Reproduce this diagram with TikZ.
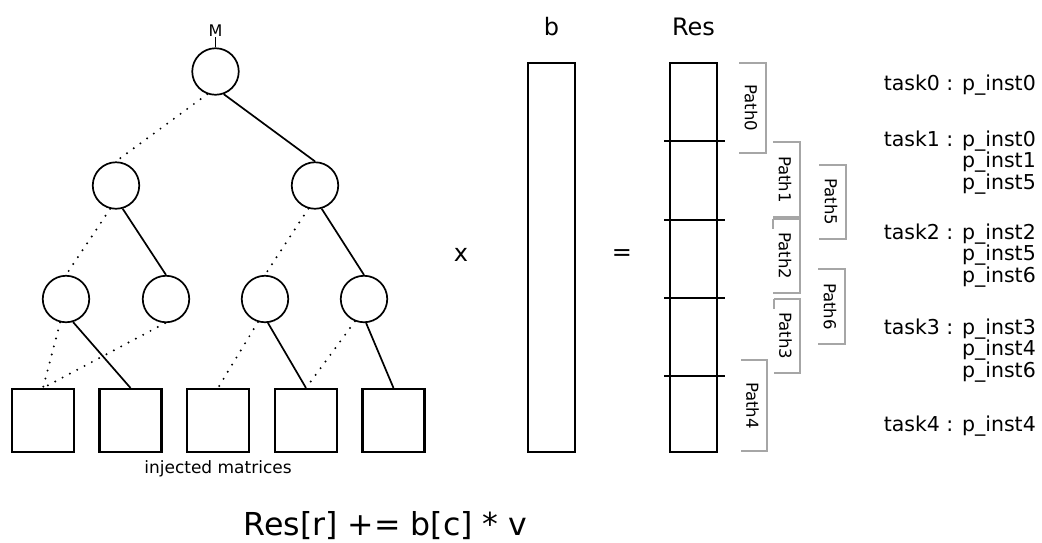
\documentclass[tikz,border=0pt]{standalone}
\usepackage{fontspec}
\setmainfont{DejaVu Sans}
\usetikzlibrary{positioning}
\tikzset{
	circ/.style={draw, circle, line width=1.7pt, minimum size=46.5pt, inner sep=0pt},
	mat/.style={draw, line width=2.1pt, minimum width=62pt, minimum height=63pt, inner sep=0pt},
	vect/.style={draw, line width=2.1pt, minimum width=47pt, minimum height=389pt, inner sep=0pt},
	tedge/.style={line width=1.7pt},
	tdots/.style={line width=2.2pt, dash pattern=on 0pt off 8.3pt, line cap=round},
	brk/.style={draw=gray!70, line width=1.2pt},
	plabel/.style={rotate=-90, inner sep=0pt, font=\fontsize{16.5}{16.5}\selectfont},
	head/.style={anchor=base, inner sep=0pt, font=\fontsize{24}{24}\selectfont},
	task/.style={anchor=base east, align=right, inner sep=0pt, font=\fontsize{20.5}{21.5}\selectfont}
}
\begin{document}
\begin{tikzpicture}[x=1pt, y=-1pt]
	\useasboundingbox (0,0) rectangle (1042,542);

	\node[circ] (M) at (215.5,71.5) {};
	\node[circ] (A) at (116,185.5) {};
	\node[circ] (B) at (315,185.5) {};
	\node[circ] (C) at (66,299) {};
	\node[circ] (D) at (166,299) {};
	\node[circ] (E) at (265,299) {};
	\node[circ] (F) at (364,299) {};
	\node[inner sep=1pt, font=\fontsize{16}{16}\selectfont, above=10pt of M] (Mlab) {M};
	\draw[line width=1.1pt] (M.north) -- (Mlab.south);

	\foreach \i/\xx in {1/43,2/130.5,3/218,4/306,5/393.5}
		\node[mat] (m\i) at (\xx,420.5) {};
	\node[anchor=base, inner sep=0pt, font=\fontsize{17}{17}\selectfont] (inj) at (218,473) {injected matrices};

	\draw[tdots] (M.-110) -- (A.north);
	\draw[tedge] (M.-70) -- (B.north);
	\draw[tdots] (A.-104) -- (C.north);
	\draw[tedge] (A.-74) -- (D.north);
	\draw[tdots] (B.-106) -- (E.north);
	\draw[tedge] (B.-74) -- (F.north);
	\draw[tdots] (C.-104) -- (m1.north);
	\draw[tedge] (C.-73) -- (m2.north);
	\draw[tdots] (D.-92) -- (m1.north);
	\draw[tdots] (E.-107) -- (m3.north);
	\draw[tedge] (E.-83) -- (m4.north);
	\draw[tdots] (F.-112) -- (m4.north);
	\draw[tedge] (F.-85) -- (m5.north);

	\node[font=\fontsize{24}{24}\selectfont] (times) at (461,255) {x};
	\node[font=\fontsize{24}{24}\selectfont] (eq) at (622,255) {=};

	\node[vect] (b) at (551.5,257.5) {};
	\node[vect] (res) at (693.5,257.5) {};
	\node[head] (blab) at (551.5,35) {b};
	\node[head] (reslab) at (693.5,35) {Res};
	\foreach \yy in {141,220,298,376}
		\draw[line width=2.1pt] (664,\yy) -- (725,\yy);

	\foreach \n/\xa/\xb/\ya/\yb in {0/739/766/63/153, 1/773/800/142/217, 5/819/846/165/239, 2/773/800/219/293, 6/818/845/269/344, 3/774/800/299/373, 4/741/767/360/451}
	{
		\draw[brk] (\xa,\ya) -- (\xb,\ya) -- (\xb,\yb) -- (\xa,\yb);
		\node[plabel] (p\n) at ({(\xa+\xb)/2-1.5},{(\ya+\yb)/2}) {Path\n};
	}
	\draw[brk] (773,219) -- (773,229);
	\draw[brk] (774,299) -- (774,309);

	\node[task] (t0) at (1036,90) {task0 : p\textunderscore inst0};
	\node[task] (t1) at (1036,189) {task1 : p\textunderscore inst0\\p\textunderscore inst1\\p\textunderscore inst5};
	\node[task] (t2) at (1036,282) {task2 : p\textunderscore inst2\\p\textunderscore inst5\\p\textunderscore inst6};
	\node[task] (t3) at (1036,377) {task3 : p\textunderscore inst3\\p\textunderscore inst4\\p\textunderscore inst6};
	\node[task] (t4) at (1036,431) {task4 : p\textunderscore inst4};

	\node[anchor=base, inner sep=0pt, font=\fontsize{31.6}{32}\selectfont] (eqn) at (385.5,535) {Res[r] += b[c] * v};
\end{tikzpicture}
\end{document}
